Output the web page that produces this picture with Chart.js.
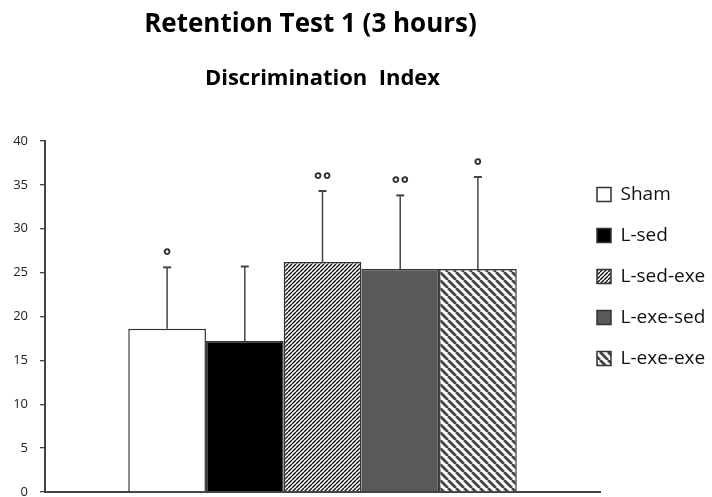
<!DOCTYPE html>
<html>
<head>
<meta charset="utf-8">
<script src="https://cdn.jsdelivr.net/npm/chart.js@4.4.1/dist/chart.umd.min.js"></script>
<style>
  html, body { margin: 0; padding: 0; background: #fff; }
</style>
</head>
<body>
<canvas id="myChart" width="712" height="497"></canvas>
<script>
// values
const groups = ['Sham', 'L-sed', 'L-sed-exe', 'L-exe-sed', 'L-exe-exe'];
const means  = [18.6, 17.2, 26.2, 25.4, 25.4];
const errors = [7.0, 8.5, 8.1, 8.4, 10.5];
const marks  = ['°', '', '°°', '°°', '°'];
const yTicks = [0, 5, 10, 15, 20, 25, 30, 35, 40];

// hatch fills
function stripes(dir, size, width, color) {
  const c = document.createElement('canvas');
  c.width = size; c.height = size;
  const g = c.getContext('2d');
  g.fillStyle = '#fff';
  g.fillRect(0, 0, size, size);
  g.strokeStyle = color;
  g.lineWidth = width;
  g.beginPath();
  for (let k = -size; k <= size; k += size) {
    if (dir > 0) { g.moveTo(k, size); g.lineTo(k + size, 0); }
    else { g.moveTo(k, 0); g.lineTo(k + size, size); }
  }
  g.stroke();
  return g.createPattern(c, 'repeat');
}

const fills = [
  '#ffffff',
  '#000000',
  stripes(1, 4, 1.4, '#111'),
  '#595959',
  stripes(-1, 8, 2.8, '#444')
];

const datasets = groups.map(function (name, i) {
  return {
    label: name,
    data: [means[i]],
    backgroundColor: fills[i],
    borderColor: '#333',
    borderWidth: 1.5,
    categoryPercentage: 0.7,
    barPercentage: 1.0
  };
});

// error bars + significance marks
const errorBars = {
  id: 'errorBars',
  afterDatasetsDraw(chart) {
    const ctx = chart.ctx;
    const y = chart.scales.y;
    ctx.save();
    datasets.forEach(function (ds, i) {
      const bar = chart.getDatasetMeta(i).data[0];
      const top = y.getPixelForValue(means[i] + errors[i]);
      ctx.strokeStyle = '#444';
      ctx.lineWidth = 1.5;
      ctx.beginPath();
      ctx.moveTo(bar.x, bar.y);
      ctx.lineTo(bar.x, top);
      ctx.stroke();
      ctx.lineWidth = 2;
      ctx.beginPath();
      ctx.moveTo(bar.x - 4, top);
      ctx.lineTo(bar.x + 4, top);
      ctx.stroke();

      const n = marks[i].length;
      ctx.fillStyle = '#2a2a3a';
      ctx.font = 'bold 19px "Open Sans"';
      ctx.textAlign = 'center';
      ctx.textBaseline = 'alphabetic';
      for (let k = 0; k < n; k++) {
        ctx.fillText('°', bar.x + (k - (n - 1) / 2) * 9, top - 15 + 11);
      }
    });
    ctx.restore();
  }
};

// move legend and titles a bit
const placeBoxes = {
  id: 'placeBoxes',
  afterLayout(chart) {
    const area = chart.chartArea;
    const lg = chart.legend;
    const pad = lg.options.labels.padding;
    const h = lg.bottom - lg.top;
    lg.left = area.right - pad - 3;
    lg.top = area.top + 22;
    lg.bottom = lg.top + h;
    chart.titleBlock.left -= 12; chart.titleBlock.right -= 12;
  }
};

const config = {
  type: 'bar',
  data: {
    labels: [''],
    datasets: datasets
  },
  options: {
    responsive: false,
    animation: false,
    layout: { padding: { top: 0, left: 0, right: 0, bottom: 5 } },
    plugins: {
      title: {
        display: true,
        text: 'Retention Test 1 (3 hours)',
        fullSize: false,
        color: '#000',
        font: { family: 'Open Sans', size: 26, weight: 'bold' },
        padding: { top: 9, bottom: 0 }
      },
      subtitle: {
        display: true,
        text: 'Discrimination  Index',
        fullSize: false,
        color: '#000',
        font: { family: 'Open Sans', size: 22, weight: 'bold' },
        padding: { top: 25, bottom: 49.4 }
      },
      legend: {
        position: 'right',
        fullSize: false,
        align: 'start',
        maxWidth: 112,
        labels: {
          boxWidth: 14,
          boxHeight: 14,
          padding: 22,
          color: '#111',
          font: { family: 'Open Sans', size: 19 }
        }
      },
      tooltip: { enabled: false }
    },
    scales: {
      x: {
        grid: { display: false, drawTicks: false },
        ticks: { display: false },
        border: { display: true, color: '#444', width: 2 },
        afterFit(scale) { scale.height = 0; }
      },
      y: {
        min: 0,
        max: 40,
        afterBuildTicks(scale) {
          scale.ticks = yTicks.map(function (v) { return { value: v }; });
        },
        grid: {
          display: true,
          drawOnChartArea: false,
          drawTicks: true,
          tickLength: 5,
          color: '#444',
          lineWidth: 1.3
        },
        border: { display: true, color: '#444', width: 2 },
        ticks: {
          padding: 12,
          color: '#222',
          font: { family: 'Open Sans', size: 13 }
        },
        afterFit(scale) {
          scale.width = 45;
          scale.paddingTop = 0;
          scale.paddingBottom = 0;
        }
      }
    }
  },
  plugins: [errorBars, placeBoxes]
};

const ctx = document.getElementById('myChart');
new Chart(ctx, config);
</script>
</body>
</html>
